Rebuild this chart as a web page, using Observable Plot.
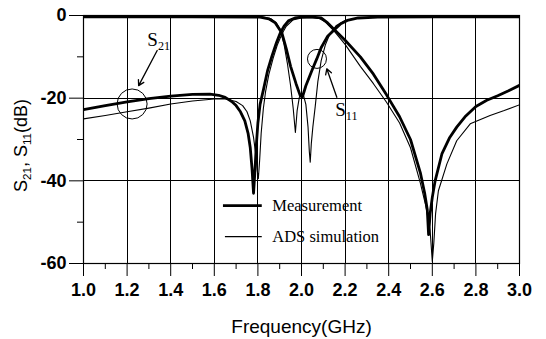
<!DOCTYPE html>
<html><head><meta charset="utf-8">
<script src="https://cdn.jsdelivr.net/npm/d3@7"></script>
<script src="https://cdn.jsdelivr.net/npm/@observablehq/plot@0.6"></script>
<style>body{margin:0;background:#fff}</style>
</head><body><div id="chart"></div>
<script>
// ---- data ----
const measS21F = [1.00,1.10,1.20,1.30,1.40,1.50,1.58,1.62,1.65,1.68,1.70,1.72,1.74,1.755,1.765,1.773,1.78,1.786,1.792,1.80,1.81,1.826,1.845,1.865,1.885,1.903,1.92,1.94,1.97,2.00,2.05,2.09,2.12,2.15,2.20,2.27,2.33,2.39,2.45,2.50,2.545,2.565,2.577,2.583,2.59,2.60,2.613,2.644,2.68,2.712,2.75,2.80,2.85,2.90,2.95,3.00];
const measS21 = [-22.8,-21.8,-20.9,-20.1,-19.5,-19.1,-19.0,-19.3,-19.8,-20.8,-21.8,-23.3,-25.5,-28.5,-32,-37,-43,-38,-32,-26,-21.5,-17.8,-13.2,-9.7,-6.6,-4.2,-2.6,-1.3,-0.6,-0.4,-0.4,-0.6,-1.8,-3.4,-6,-10,-14.2,-19.2,-24.5,-30,-38,-43,-47,-53,-48,-44,-40,-33.5,-29.5,-27,-24.5,-22,-20.5,-19.4,-18.2,-16.9];

const simS21F = [1.00,1.10,1.20,1.30,1.40,1.50,1.60,1.65,1.70,1.73,1.75,1.765,1.78,1.79,1.797,1.802,1.808,1.815,1.825,1.835,1.85,1.87,1.89,1.91,1.93,1.96,2.00,2.05,2.08,2.11,2.15,2.20,2.27,2.33,2.39,2.45,2.50,2.545,2.57,2.59,2.600,2.607,2.615,2.628,2.667,2.712,2.774,2.865,2.93,3.00];
const simS21 = [-25,-24.2,-23.3,-22.4,-21.4,-20.7,-20.2,-20.2,-20.8,-21.8,-23.3,-25.5,-29.5,-33.5,-37.5,-39.5,-35,-28.5,-22.5,-18.5,-14.3,-10.3,-7,-4.5,-2.6,-1.1,-0.6,-0.5,-0.7,-1.6,-3.8,-7,-12.3,-16.5,-21,-26,-32,-40.5,-46,-52,-59.5,-55,-48,-42.4,-35.9,-30.3,-26.2,-24.2,-23,-21.6];

const measS11F = [1.00,1.50,1.81,1.85,1.88,1.91,1.93,1.95,1.975,1.995,2.005,2.02,2.05,2.07,2.09,2.12,2.147,2.18,2.21,2.26,2.35,2.60,3.00];
const measS11 = [-0.3,-0.3,-0.4,-0.8,-1.8,-4.2,-8,-12.3,-16.5,-19.5,-19.6,-17,-13,-10.5,-7.8,-5,-3.6,-2,-1.2,-0.6,-0.4,-0.3,-0.3];

const simS11F = [1.00,1.50,1.82,1.86,1.885,1.903,1.92,1.935,1.95,1.962,1.972,1.98,1.99,2.00,2.01,2.02,2.03,2.036,2.04,2.045,2.052,2.063,2.075,2.09,2.11,2.13,2.16,2.20,2.26,2.35,3.00];
const simS11 = [-0.2,-0.2,-0.3,-0.8,-1.8,-3.6,-7,-11.5,-17,-22.5,-28.3,-23,-19.8,-19.2,-19.5,-21.5,-27,-33,-35.5,-31,-27,-22,-16,-11,-7,-4.5,-2.4,-1.2,-0.6,-0.3,-0.2];

const xMajor = [1.0,1.2,1.4,1.6,1.8,2.0,2.2,2.4,2.6,2.8,3.0];
const xMinor = [1.1,1.3,1.5,1.7,1.9,2.1,2.3,2.5,2.7,2.9];
const yMajor = [0,-20,-40,-60];
const yMinor = [-10,-30,-50];
const gridXTicks = [1.2,1.4,1.6,1.8,2.0,2.2,2.4,2.6,2.8];
const gridYTicks = [-20,-40];
const legendLabels = ["Measurement","ADS simulation"];

const toRows = (F, V) => F.map((f, i) => ({f, dB: V[i]}));

const serif = "'Liberation Serif', 'Times New Roman', serif";
const sans = "'Liberation Sans', Arial, sans-serif";

const chart = Plot.plot({
  width: 546, height: 339,
  marginLeft: 83, marginRight: 27, marginTop: 15, marginBottom: 76,
  x: {domain: [1, 3]},
  y: {domain: [-60, 0]},
  style: {fontFamily: sans, fontSize: "18px", background: "white", color: "black"},
  marks: [
    Plot.gridX(gridXTicks, {stroke: "black", strokeOpacity: 1, strokeWidth: 1, shapeRendering: "crispEdges"}),
    Plot.gridY(gridYTicks, {stroke: "black", strokeOpacity: 1, strokeWidth: 1, shapeRendering: "crispEdges"}),
    Plot.line(toRows(simS21F, simS21), {x: "f", y: "dB", stroke: "black", strokeWidth: 1.1, clip: true}),
    Plot.line(toRows(simS11F, simS11), {x: "f", y: "dB", stroke: "black", strokeWidth: 1.1, clip: true}),
    Plot.line(toRows(measS21F, measS21), {x: "f", y: "dB", stroke: "black", strokeWidth: 2.8, clip: true}),
    Plot.line(toRows(measS11F, measS11), {x: "f", y: "dB", stroke: "black", strokeWidth: 2.8, clip: true}),
    Plot.frame({stroke: "black", strokeWidth: 1.2}),
    Plot.axisX(xMajor, {tickSize: 13, tickPadding: 7, tickFormat: d3.format(".1f"), fontWeight: "bold", fontSize: 18, label: null}),
    Plot.axisX(xMinor, {tickSize: 6, tickFormat: () => "", label: null}),
    Plot.axisY(yMajor, {tickSize: 14, tickPadding: 3, tickFormat: d => String(d), fontWeight: "bold", fontSize: 18, label: null}),
    Plot.axisY(yMinor, {tickSize: 6, tickFormat: () => "", label: null}),
    // axis titles
    Plot.text(["Frequency(GHz)"], {frameAnchor: "bottom", dy: 63, fontSize: 19, lineAnchor: "middle", textAnchor: "middle"}),
    Plot.text(["S_21, S_11(dB)"], {frameAnchor: "left", dx: -62, dy: 6, rotate: -90, fontSize: 18, lineAnchor: "middle", textAnchor: "middle"}),
    // legend
    Plot.ruleY([legendLabels[0]], {y: -46, x1: 1.642, x2: 1.82, stroke: "black", strokeWidth: 2.8}),
    Plot.ruleY([legendLabels[1]], {y: -53.5, x1: 1.651, x2: 1.82, stroke: "black", strokeWidth: 1.1}),
    Plot.text([legendLabels[0]], {x: 1.866, y: -46, textAnchor: "start", fontFamily: serif, fontSize: 16.5, letterSpacing: 0.9}),
    Plot.text([legendLabels[1]], {x: 1.866, y: -53.5, textAnchor: "start", fontFamily: serif, fontSize: 16.5, letterSpacing: 0.9}),
    // annotations
    Plot.dot(["S21"], {x: 1.223, y: -21.4, r: 15, stroke: "black", fill: "none", strokeWidth: 1}),
    Plot.dot(["S11"], {x: 2.071, y: -10.5, r: 9.5, stroke: "black", fill: "none", strokeWidth: 1}),
    Plot.arrow(["S21"], {x1: 1.338, y1: -8.48, x2: 1.253, y2: -16.96, headLength: 7, strokeWidth: 1.3, stroke: "black"}),
    Plot.arrow(["S11"], {x1: 2.162, y1: -19.8, x2: 2.116, y2: -12.9, headLength: 7, strokeWidth: 1.3, stroke: "black"}),
    Plot.text(["S_21"], {x: 1.293, y: -5.86, textAnchor: "start", fontFamily: serif, fontSize: 19}),
    Plot.text(["S_11"], {x: 2.155, y: -22.8, textAnchor: "start", fontFamily: serif, fontSize: 19})
  ]
});

// subscripts: "S_21" -> S with subscript 21
d3.select(chart).selectAll("text").each(function() {
  const t = this.textContent;
  if (!t.includes("_")) return;
  const sel = d3.select(this);
  sel.text(null);
  const parts = t.split(/(_\d+)/).filter(p => p.length);
  let lowered = false;
  parts.forEach(p => {
    if (p.startsWith("_")) {
      sel.append("tspan").attr("font-size", "64%").attr("dy", lowered ? 0 : 4).text(p.slice(1));
      lowered = true;
    } else {
      sel.append("tspan").attr("dy", lowered ? -4 : 0).text(p);
      lowered = false;
    }
  });
});

document.getElementById("chart").appendChild(chart);
</script>
</body></html>
